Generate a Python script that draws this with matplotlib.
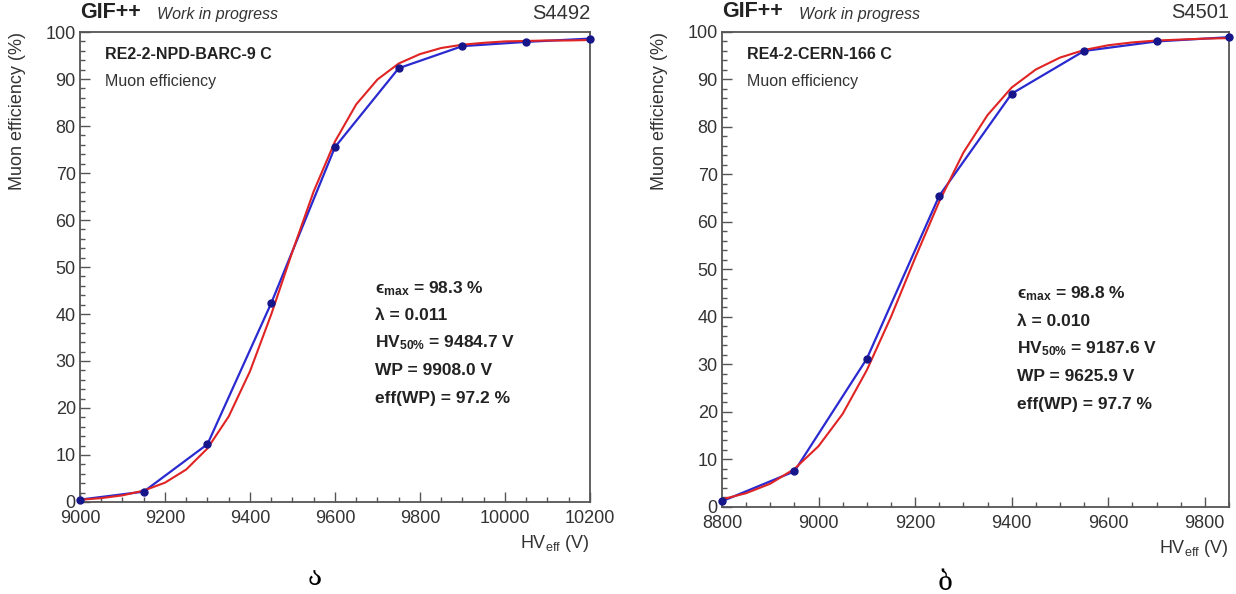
# coding: utf-8
"""Muon efficiency scans of two RPC chambers at GIF++."""

import matplotlib
matplotlib.use("Agg")
from matplotlib import pyplot as plt
from matplotlib.ticker import MultipleLocator

plt.rcParams["font.family"] = ["Liberation Sans", "DejaVu Sans"]
plt.rcParams["mathtext.fontset"] = "custom"
plt.rcParams["mathtext.rm"] = "Liberation Sans"
plt.rcParams["mathtext.it"] = "Liberation Sans:italic"
plt.rcParams["mathtext.bf"] = "Liberation Sans:bold"

# Panel a: RE2-2-NPD-BARC-9 C
hv_a = [9000, 9150, 9300, 9450, 9600, 9750, 9900, 10050, 10200]
eff_a = [0.5, 2.2, 12.3, 42.3, 75.5, 92.3, 97.0, 97.9, 98.6]
fit_hv_a = [9000, 9050, 9100, 9150, 9200, 9250, 9300, 9350, 9400, 9450,
            9500, 9550, 9600, 9650, 9700, 9750, 9800, 9850, 9900, 9950,
            10000, 10050, 10100, 10150, 10200]
fit_eff_a = [0.47, 0.82, 1.41, 2.42, 4.11, 6.91, 11.4, 18.2, 27.8, 39.9,
             53.3, 66.1, 76.7, 84.6, 89.9, 93.3, 95.3, 96.6, 97.3, 97.7,
             98.0, 98.1, 98.2, 98.2, 98.3]
stats_a = [r"ϵ$_{\mathbf{max}}$ = 98.3 %", "λ = 0.011",
           r"HV$_{\mathbf{50\%}}$ = 9484.7 V", "WP = 9908.0 V",
           "eff(WP) = 97.2 %"]

# Panel b: RE4-2-CERN-166 C
hv_b = [8800, 8950, 9100, 9250, 9400, 9550, 9700, 9850]
eff_b = [1.2, 7.5, 31.2, 65.5, 87.0, 96.0, 98.0, 98.9]
fit_hv_b = [8800, 8850, 8900, 8950, 9000, 9050, 9100, 9150, 9200, 9250,
            9300, 9350, 9400, 9450, 9500, 9550, 9600, 9650, 9700, 9750,
            9800, 9850]
fit_eff_b = [1.6, 2.9, 4.9, 8.0, 12.8, 19.6, 28.8, 40.0, 52.4, 64.3,
             74.6, 82.5, 88.3, 92.1, 94.6, 96.2, 97.2, 97.8, 98.2, 98.4,
             98.6, 98.7]
stats_b = [r"ϵ$_{\mathbf{max}}$ = 98.8 %", "λ = 0.010",
           r"HV$_{\mathbf{50\%}}$ = 9187.6 V", "WP = 9625.9 V",
           "eff(WP) = 97.7 %"]

FRAME = "#555555"


def draw_panel(ax, hv, eff, fit_hv, fit_eff, xlim, chamber, run, stats,
               letter, stats_pos, letter_x):
    """One efficiency scan in ROOT style."""
    ax.plot(hv, eff, color="#2a2ad0", lw=1.6, zorder=2)
    ax.plot(fit_hv, fit_eff, color="#e02424", lw=1.5, zorder=3)
    ax.plot(hv, eff, "o", ms=5, color="#16168a", zorder=4, clip_on=False)

    # Axes
    ax.set_xlim(*xlim)
    ax.set_ylim(0, 100)
    ax.xaxis.set_major_locator(MultipleLocator(200))
    ax.xaxis.set_minor_locator(MultipleLocator(50))
    ax.yaxis.set_major_locator(MultipleLocator(10))
    ax.yaxis.set_minor_locator(MultipleLocator(2))
    ax.tick_params(which="both", direction="in", color=FRAME, width=1.0,
                   labelsize=13, labelcolor="#333333")
    ax.tick_params(which="major", length=7.5)
    ax.tick_params(which="minor", length=3.8)
    ax.tick_params(axis="x", pad=6)
    ax.tick_params(axis="y", pad=3)
    for side in ax.spines:
        ax.spines[side].set_color(FRAME)
        ax.spines[side].set_linewidth(1.3)

    # Labels
    ax.set_ylabel("Muon efficiency (%)", loc="top", fontsize=13,
                  color="#333333", labelpad=14)
    ax.set_xlabel(r"HV$_{\mathregular{eff}}$ (V)", loc="right", fontsize=13,
                  color="#333333", labelpad=4)

    # Header
    ax.text(0.0, 1.02, "GIF++", transform=ax.transAxes, fontsize=15.5,
            fontweight="bold", color="#222222", va="bottom")
    ax.text(0.152, 1.022, "Work in progress", transform=ax.transAxes,
            fontsize=11.5, style="italic", color="#333333", va="bottom")
    ax.text(1.0, 1.02, run, transform=ax.transAxes, fontsize=14.5,
            color="#333333", ha="right", va="bottom")
    ax.text(0.05, 0.952, chamber, transform=ax.transAxes, fontsize=11.5,
            fontweight="bold", color="#222222", va="center")
    ax.text(0.05, 0.895, "Muon efficiency", transform=ax.transAxes,
            fontsize=11.5, color="#333333", va="center")

    # Fit results
    x0, y0 = stats_pos
    for index, line in enumerate(stats):
        ax.text(x0, y0 - index * 0.0585, line, transform=ax.transAxes,
                fontsize=12.5, fontweight="bold", color="#222222",
                va="center")

    # Panel letter
    ax.text(letter_x, -0.16, letter, transform=ax.transAxes, fontsize=19,
            family=["DejaVu Serif", "DejaVu Sans"], ha="center", va="center")


fig = plt.figure(figsize=(12.36, 5.94), dpi=100)
ax_a = fig.add_axes([0.0647, 0.1549, 0.4126, 0.7912])
ax_b = fig.add_axes([0.5841, 0.1465, 0.4102, 0.7997])

draw_panel(ax_a, hv_a, eff_a, fit_hv_a, fit_eff_a, (9000, 10200),
           "RE2-2-NPD-BARC-9 C", "S4492", stats_a, "ა", (0.578, 0.455), 0.46)
draw_panel(ax_b, hv_b, eff_b, fit_hv_b, fit_eff_b, (8800, 9850),
           "RE4-2-CERN-166 C", "S4501", stats_b, "ბ", (0.582, 0.45), 0.44)

fig.savefig("out.png", dpi=100)
